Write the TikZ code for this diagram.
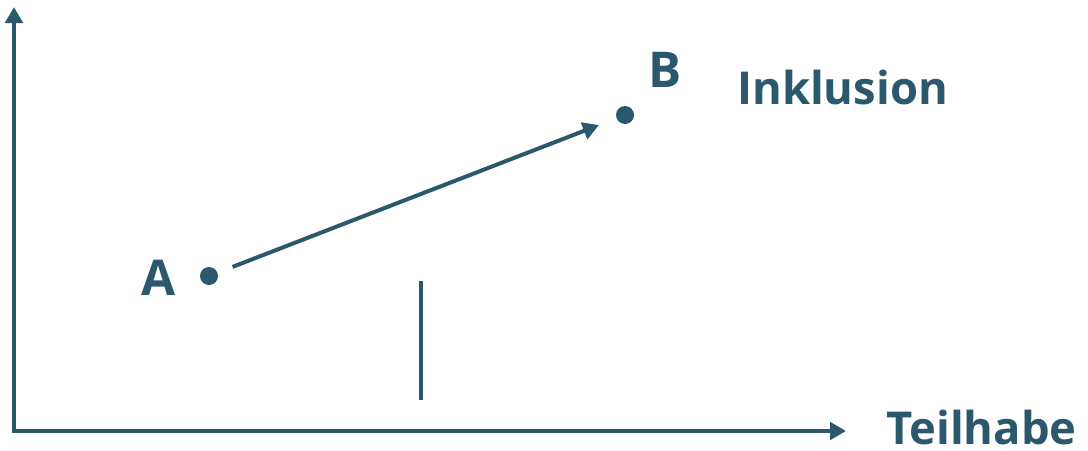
\documentclass[tikz,border=0pt]{standalone}
\usepackage{fontspec}
\setmainfont{Open Sans}
\usetikzlibrary{arrows.meta}
\definecolor{dk}{HTML}{2A586D}
\begin{document}
\begin{tikzpicture}[x=0.75pt,y=-0.75pt,
  ln/.style={draw=dk,line width=3pt},
  arr/.style={ln,-{Triangle[length=12pt,width=13pt]}},
  dot/.style={circle,fill=dk,inner sep=0pt,minimum size=13.5pt},
  lbl/.style={text=dk,font=\fontsize{34}{40}\selectfont\bfseries,inner sep=0pt},
  big/.style={lbl,font=\fontsize{37}{42}\selectfont\bfseries}]
\useasboundingbox (0,0) rectangle (1088,450);
\coordinate (o) at (14,431);
\coordinate (ytip) at (14,7);
\coordinate (xtip) at (846,431);
\draw[arr] ([yshift=-1.5pt]o) -- (ytip);
\draw[arr] ([xshift=-1.5pt]o) -- (xtip);
\node[dot] (A) at (209,276) {};
\node[dot] (B) at (625,115) {};
\draw[arr,shorten <=12pt,shorten >=14pt] (A) -- (B);
\coordinate (v1) at (421,281);
\coordinate (v2) at (421,400);
\draw[ln] (v1) -- (v2);
\node[big,anchor=base] (la) at (159,295) {A};
\node[big,anchor=base] (lb) at (665,87) {B};
\node[lbl,anchor=base west] (inkl) at (737,104) {Inklusion};
\node[lbl,anchor=base west] (teil) at (886,444) {Teilhabe};
\end{tikzpicture}
\end{document}
